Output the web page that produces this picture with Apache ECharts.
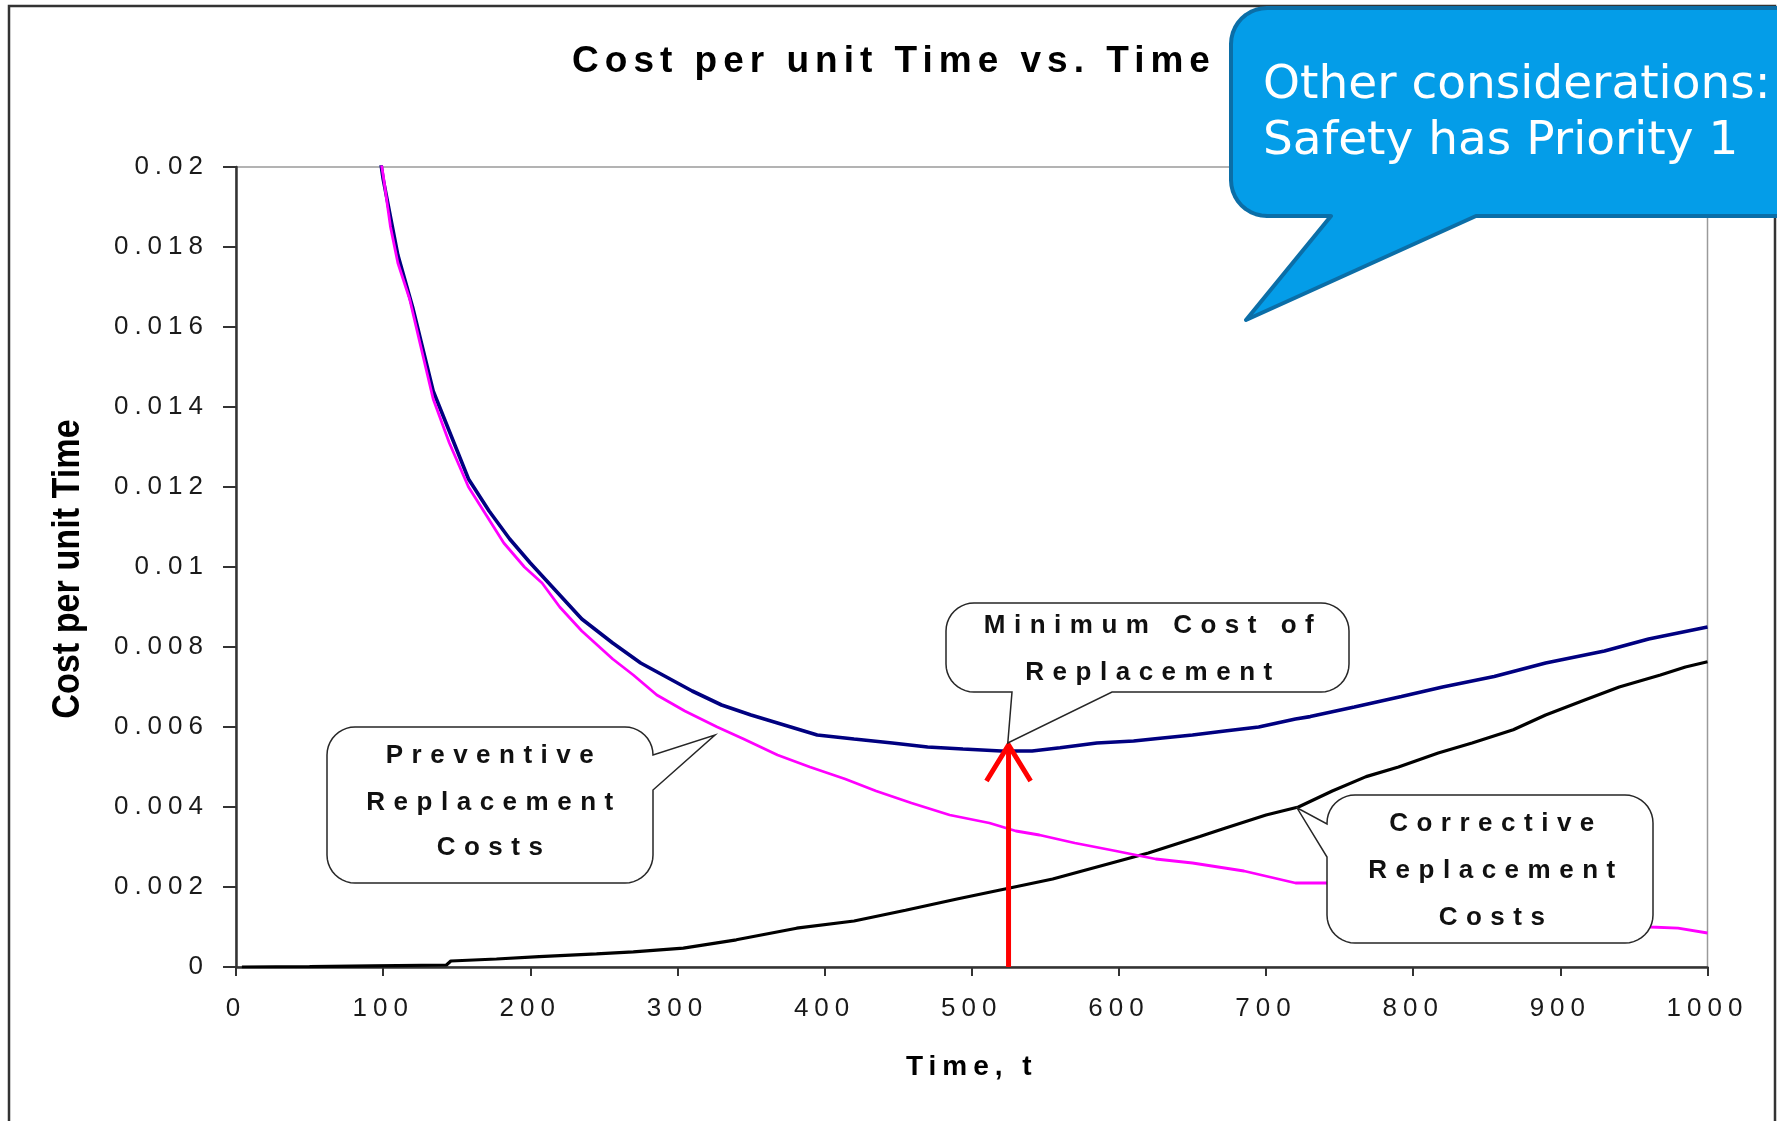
<!DOCTYPE html>
<html>
<head>
<meta charset="utf-8">
<title>Cost per unit Time vs. Time</title>
<script src="https://cdn.jsdelivr.net/npm/echarts@6/dist/echarts.min.js"></script>
<style>
  html, body { margin: 0; padding: 0; background: #ffffff; }
  #chart { width: 1777px; height: 1121px; }
</style>
</head>
<body>
<div id="chart"></div>
<script>
// ---- axis ticks ----
const xTickValues = [0, 100, 200, 300, 400, 500, 600, 700, 800, 900, 1000];
const yTickLabels = ['0', '0.002', '0.004', '0.006', '0.008', '0.01', '0.012', '0.014', '0.016', '0.018', '0.02'];

// ---- preventive replacement cost per unit time ----
const preventiveT = [94, 100, 105, 110, 118, 125, 134, 145, 158, 170, 182, 196, 208, 220, 235, 256, 270, 286, 305, 327,
  345, 368, 390, 414, 435, 459, 485, 512, 530, 546, 570, 598, 625, 650, 685, 720, 741, 770, 800, 850, 900, 940, 961, 980, 1000];
const preventiveV = [0.0212, 0.0198, 0.0185, 0.0176, 0.0167, 0.0156, 0.0142, 0.0131, 0.0120, 0.0113, 0.0106, 0.0100, 0.0096,
  0.0090, 0.0084, 0.0077, 0.0073, 0.0068, 0.0064, 0.0060, 0.0057, 0.0053, 0.0050, 0.0047, 0.0044, 0.0041, 0.0038, 0.0036,
  0.0034, 0.0033, 0.0031, 0.0029, 0.0027, 0.0026, 0.0024, 0.0021, 0.0021, 0.0019, 0.0018, 0.0016, 0.0013, 0.0011, 0.0010,
  0.00097, 0.00085];

// ---- total cost per unit time ----
const totalT = [94, 100, 110, 120, 134, 146, 158, 172, 186, 200, 215, 235, 256, 275, 290, 310, 330, 350, 368, 395, 420, 446,
  470, 494, 520, 541, 560, 585, 610, 628, 650, 672, 695, 720, 730, 760, 792, 820, 855, 890, 930, 960, 980, 1000];
const totalV = [0.0212, 0.0197, 0.0178, 0.0165, 0.0144, 0.0133, 0.0122, 0.0114, 0.0107, 0.0101, 0.0095, 0.0087, 0.0081,
  0.0076, 0.0073, 0.0069, 0.00655, 0.0063, 0.0061, 0.0058, 0.0057, 0.0056, 0.0055, 0.00545, 0.0054, 0.0054, 0.00548,
  0.0056, 0.00565, 0.00572, 0.0058, 0.0059, 0.0060, 0.0062, 0.00626, 0.0065, 0.00676, 0.0070, 0.00726, 0.0076, 0.0079,
  0.0082, 0.00835, 0.0085];

// ---- corrective replacement cost per unit time ----
const correctiveT = [4, 50, 93, 143, 146, 177, 206, 245, 270, 304, 340, 381, 420, 455, 490, 525, 555, 585, 620, 655, 672,
  700, 722, 745, 768, 790, 817, 840, 868, 890, 917, 940, 968, 985, 1000];
const correctiveV = [0, 0.00001, 0.00003, 0.00005, 0.00015, 0.0002, 0.00026, 0.00033, 0.00038, 0.00047, 0.00068, 0.00097,
  0.00115, 0.00142, 0.0017, 0.00197, 0.0022, 0.0025, 0.00285, 0.00326, 0.00347, 0.0038, 0.004, 0.0044, 0.00476, 0.005,
  0.00535, 0.0056, 0.00593, 0.0063, 0.00668, 0.0070, 0.0073, 0.0075, 0.00763];

// ---- optimum replacement time marker ----
const optimumT = 525;
const optimumV = 0.00555;
const arrowHeadT = [510, 540];
const arrowHeadV = 0.00465;

// ---- points the callouts refer to (time, cost) ----
const preventiveAnchor = [325.5, 0.0058];
const optimumAnchor = [524.5, 0.0056];
const correctiveAnchor = [721, 0.00398];

const zip = (ts, vs) => ts.map((t, i) => [t, vs[i]]);

const chart = echarts.init(document.getElementById('chart'), null, { renderer: 'canvas' });

// Excel-style spaced lettering per canvas layer
function setLayerSpacing(zlevel, px) {
  const painter = chart.getZr().painter;
  if (!painter || typeof painter.getLayer !== 'function') return;
  const layer = painter.getLayer(zlevel);
  if (layer && layer.ctx) layer.ctx.letterSpacing = px + 'px';
}
setLayerSpacing(0, 6);
setLayerSpacing(1, 8.5);
setLayerSpacing(2, 0);

const XL_FONT = '"Liberation Sans", Arial, sans-serif';

const option = {
  animation: false,
  backgroundColor: '#ffffff',
  title: {
    text: 'Cost per unit Time vs. Time',
    left: 894,
    top: 43.5,
    padding: 0,
    textAlign: 'center',
    textVerticalAlign: 'top',
    textStyle: { fontFamily: XL_FONT, fontWeight: 'bold', fontSize: 37, color: '#000000' }
  },
  grid: {
    left: 236, right: 69.5, top: 167, bottom: 154,
    show: true, borderColor: '#9a9a9a', borderWidth: 1.5, backgroundColor: 'transparent'
  },
  xAxis: {
    type: 'value', min: 0, max: 1000, interval: 100,
    name: 'Time, t', nameLocation: 'middle', nameGap: 86,
    nameTextStyle: { fontFamily: XL_FONT, fontWeight: 'bold', fontSize: 28, color: '#000000' },
    axisLine: { show: true, onZero: false, lineStyle: { color: '#333333', width: 2.5 } },
    axisTick: { show: true, inside: false, length: 9, lineStyle: { color: '#333333', width: 2 } },
    axisLabel: {
      margin: 29, fontFamily: XL_FONT, fontSize: 26, color: '#1a1a1a',
      formatter: v => String(xTickValues[Math.round(v / 100)])
    },
    splitLine: { show: false }
  },
  yAxis: {
    type: 'value', min: 0, max: 0.02, interval: 0.002,
    axisLine: { show: true, onZero: false, lineStyle: { color: '#333333', width: 2.5 } },
    axisTick: { show: true, inside: false, length: 13, lineStyle: { color: '#333333', width: 2 } },
    axisLabel: {
      margin: 27, fontFamily: XL_FONT, fontSize: 26, color: '#1a1a1a',
      formatter: v => yTickLabels[Math.round(v / 0.002)]
    },
    splitLine: { show: false }
  },
  series: [
    {
      name: 'Corrective Replacement Costs', type: 'line', z: 2,
      data: zip(correctiveT, correctiveV),
      showSymbol: false, symbol: 'none', silent: true,
      lineStyle: { color: '#000000', width: 3.2 }
    },
    {
      name: 'Total Cost', type: 'line', z: 3,
      data: zip(totalT, totalV),
      showSymbol: false, symbol: 'none', silent: true,
      lineStyle: { color: '#000080', width: 3.6 }
    },
    {
      name: 'Preventive Replacement Costs', type: 'line', z: 4,
      data: zip(preventiveT, preventiveV),
      showSymbol: false, symbol: 'none', silent: true,
      lineStyle: { color: '#ff00ff', width: 2.8 }
    },
    {
      name: 'Optimum', type: 'line', z: 5,
      data: [[optimumT, 0], [optimumT, optimumV]],
      showSymbol: false, symbol: 'none', silent: true,
      lineStyle: { color: '#ff0000', width: 5 }
    },
    {
      name: 'Optimum head', type: 'line', z: 5,
      data: [[arrowHeadT[0], arrowHeadV], [optimumT, optimumV], [arrowHeadT[1], arrowHeadV]],
      showSymbol: false, symbol: 'none', silent: true,
      lineStyle: { color: '#ff0000', width: 5, join: 'miter' }
    }
  ]
};

chart.setOption(option);

// rounded box with a wedge pointer, as a polygon outline
function calloutPoints(box, r, ptr) {
  const [x0, y0, x1, y1] = box;
  const pts = [];
  const arc = (cx, cy, a0, a1) => {
    const n = 10;
    for (let i = 0; i <= n; i++) {
      const a = a0 + (a1 - a0) * i / n;
      pts.push([cx + r * Math.cos(a), cy + r * Math.sin(a)]);
    }
  };
  arc(x0 + r, y0 + r, Math.PI, 1.5 * Math.PI);
  arc(x1 - r, y0 + r, 1.5 * Math.PI, 2 * Math.PI);
  if (ptr && ptr.edge === 'right') pts.push([x1, ptr.from], ptr.tip, [x1, ptr.to]);
  arc(x1 - r, y1 - r, 0, 0.5 * Math.PI);
  if (ptr && ptr.edge === 'bottom') pts.push([ptr.from, y1], ptr.tip, [ptr.to, y1]);
  arc(x0 + r, y1 - r, 0.5 * Math.PI, Math.PI);
  if (ptr && ptr.edge === 'left') pts.push([x0, ptr.from], ptr.tip, [x0, ptr.to]);
  return pts;
}

const toPx = p => chart.convertToPixel({ xAxisIndex: 0, yAxisIndex: 0 }, p);

function boxText(lines, cx, mids, zlevel) {
  return lines.map((s, i) => ({
    type: 'text', zlevel: zlevel, z: 20, silent: true,
    x: cx, y: mids[i],
    style: {
      text: s, font: 'bold 26px ' + XL_FONT, fill: '#111111',
      textAlign: 'center', align: 'center', textVerticalAlign: 'middle', verticalAlign: 'middle'
    }
  }));
}

const boxStyle = { fill: '#ffffff', stroke: '#262626', lineWidth: 1.5 };

const tipPrev = toPx(preventiveAnchor);
const tipOpt = toPx(optimumAnchor);
const tipCorr = toPx(correctiveAnchor);

const graphic = [
  // outer frame
  {
    type: 'rect', zlevel: 0, z: 0, silent: true,
    shape: { x: 9, y: 6, width: 1766, height: 1200 },
    style: { fill: 'none', stroke: '#333333', lineWidth: 2.5 }
  },
  // Preventive Replacement Costs callout
  {
    type: 'polygon', zlevel: 1, z: 10, silent: true,
    shape: { points: calloutPoints([327, 727, 653, 883], 28, { edge: 'right', from: 755, to: 790, tip: tipPrev }) },
    style: boxStyle
  },
  ...boxText(['Preventive', 'Replacement', 'Costs'], 494, [756, 802.7, 847.7], 1),
  // Minimum Cost of Replacement callout
  {
    type: 'polygon', zlevel: 1, z: 10, silent: true,
    shape: { points: calloutPoints([946, 603, 1349, 692], 28, { edge: 'bottom', from: 1112, to: 1012, tip: tipOpt }) },
    style: boxStyle
  },
  ...boxText(['Minimum Cost of', 'Replacement'], 1153, [626, 672.7], 1),
  // Corrective Replacement Costs callout
  {
    type: 'polygon', zlevel: 1, z: 10, silent: true,
    shape: { points: calloutPoints([1327, 795, 1653, 943], 28, { edge: 'left', from: 857, to: 824, tip: tipCorr }) },
    style: boxStyle
  },
  ...boxText(['Corrective', 'Replacement', 'Costs'], 1496, [824.3, 871, 917.7], 1),
  // y axis title (condensed)
  {
    type: 'text', zlevel: 2, z: 10, silent: true,
    x: 69, y: 569, rotation: Math.PI / 2, scaleX: 0.9, scaleY: 1,
    style: {
      text: 'Cost per unit Time', font: 'bold 38px ' + XL_FONT, fill: '#000000',
      textAlign: 'center', align: 'center', textVerticalAlign: 'middle', verticalAlign: 'middle'
    }
  },
  // blue note balloon
  {
    type: 'polygon', zlevel: 2, z: 10, silent: true,
    shape: { points: calloutPoints([1231, 8, 1830, 216], 36, { edge: 'bottom', from: 1476, to: 1331, tip: [1246, 320] }) },
    style: { fill: '#049de8', stroke: '#0b6ea7', lineWidth: 4, lineJoin: 'round' }
  },
  {
    type: 'text', zlevel: 2, z: 20, silent: true, x: 1263, y: 85.7,
    style: {
      text: 'Other considerations:', font: '47px "DejaVu Sans", Verdana, sans-serif', fill: '#ffffff',
      textAlign: 'left', align: 'left', textVerticalAlign: 'middle', verticalAlign: 'middle'
    }
  },
  {
    type: 'text', zlevel: 2, z: 20, silent: true, x: 1263, y: 141.7,
    style: {
      text: 'Safety has Priority 1', font: '47px "DejaVu Sans", Verdana, sans-serif', fill: '#ffffff',
      textAlign: 'left', align: 'left', textVerticalAlign: 'middle', verticalAlign: 'middle'
    }
  }
];

chart.setOption({ graphic: graphic });
</script>
</body>
</html>
